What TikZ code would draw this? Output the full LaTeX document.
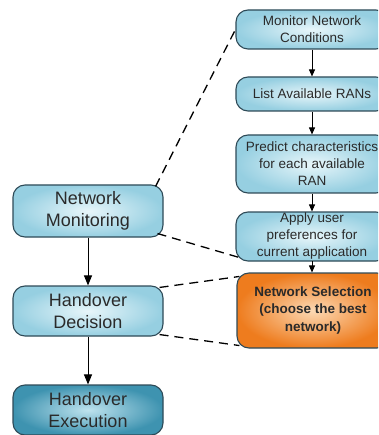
\documentclass[tikz,border=0pt]{standalone}
\usepackage{fontspec}
\setmainfont{Liberation Sans}
\usetikzlibrary{arrows.meta,calc}
\definecolor{bdr}{HTML}{2E4A57}
\definecolor{blueout}{HTML}{96CFE1}
\definecolor{bluein}{HTML}{E8F6FA}
\definecolor{tealout}{HTML}{3E93B0}
\definecolor{tealin}{HTML}{BFE3EE}
\definecolor{orout}{HTML}{EE7C1E}
\definecolor{orin}{HTML}{FCD9B4}
\definecolor{txt}{HTML}{2A2A2A}
\begin{document}
\begin{tikzpicture}[x=1pt,y=-1pt,
 box/.style={draw=bdr,line width=1.1pt,rounded corners=12pt,inner sep=0pt,align=center,text=txt,inner color=bluein,outer color=blueout},
 big/.style={box,minimum width=150pt,font=\fontsize{18}{22}\selectfont},
 small/.style={box,minimum width=152pt,font=\fontsize{13.5}{17}\selectfont},
 arr/.style={-{Triangle[length=10pt,width=8pt]},line width=1pt},
 sarr/.style={-{Triangle[length=7pt,width=6pt]},line width=1pt},
 dsh/.style={dash pattern=on 9pt off 6pt,line width=1.3pt}]
\clip (0,0) rectangle (378,435);
\node[big,minimum height=52pt] (nm) at (88,211) {Network\\Monitoring};
\node[big,minimum height=50pt] (hd) at (88,311) {Handover\\Decision};
\node[big,minimum height=50pt,inner color=tealin,outer color=tealout] (he) at (88,410) {Handover\\Execution};
\node[small,minimum height=39pt] (mon) at (312,29.5) {Monitor Network\\Conditions};
\node[small,minimum height=34pt] (ran) at (312,94) {List Available RANs};
\node[small,minimum height=58pt] (pre) at (312,164) {Predict characteristics\\for each available\\RAN};
\node[small,minimum height=49pt] (app) at (312,236.5) {Apply user\\preferences for\\current application};
\node[small,minimum height=75pt,inner color=orin,outer color=orout,font=\bfseries\fontsize{13.5}{17.5}\selectfont] (ns) at (313,310.5) {Network Selection\\(choose the best\\network)};
\draw[arr] (nm) -- (hd);
\draw[arr] (hd) -- (he);
\draw[sarr] (mon) -- (ran);
\draw[sarr] (ran) -- (pre);
\draw[sarr] (pre) -- (app);
\draw[sarr] (312,261) -- (ns.north -| 312,0);
\draw[dsh] ($(nm.north east)+(-8,2)$) -- (mon.west);
\draw[dsh] ($(nm.south east)+(-6,-4)$) -- ($(app.south west)+(4,-4)$);
\draw[dsh] ($(hd.north east)+(-4,2)$) -- ($(ns.north west)+(3,4)$);
\draw[dsh] ($(hd.south east)+(-4,-2)$) -- ($(ns.south west)+(3,-3)$);
\end{tikzpicture}
\end{document}
